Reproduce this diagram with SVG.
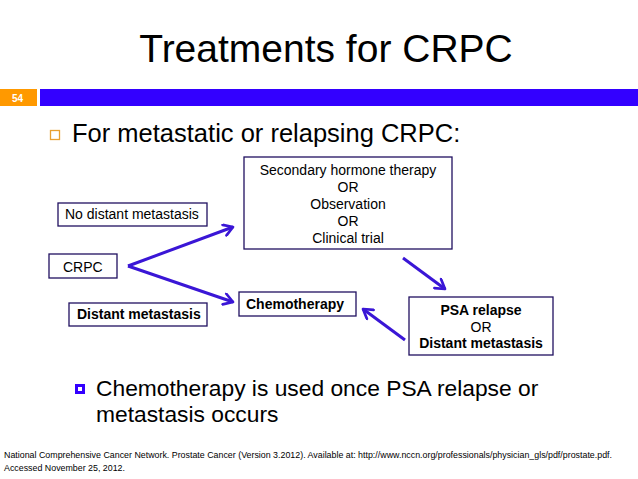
<svg xmlns="http://www.w3.org/2000/svg" width="638" height="479" viewBox="0 0 638 479">
<style>
text{font-family:"Liberation Sans",Arial,sans-serif;fill:#000}
.box{fill:#fff;stroke:#201060;stroke-width:1.3}
.t13{font-size:14px}
.b{font-weight:bold}
.c{text-anchor:middle}
.arr{stroke:#3a16d6;stroke-width:3;fill:none;marker-end:url(#ah)}
</style>
<defs>
<marker id="ah" viewBox="0 0 12 12" refX="10" refY="6" markerWidth="4.5" markerHeight="4.5" orient="auto" markerUnits="strokeWidth">
<path d="M2,1 L10,6 L2,11" fill="none" stroke="#3a16d6" stroke-width="2.4" stroke-linecap="round" stroke-linejoin="round"/>
</marker>
</defs>
<rect width="638" height="479" fill="#fff"/>
<text x="326" y="62" class="c" font-size="39">Treatments for CRPC</text>
<rect x="0" y="89" width="37" height="17" fill="#ff9900"/>
<text x="12" y="102" font-size="10" font-weight="bold" style="fill:#fff">54</text>
<rect x="40" y="89" width="598" height="17" fill="#3300ff"/>
<rect x="50.5" y="130.5" width="9" height="9" fill="none" stroke="#e8a030" stroke-width="1.3"/>
<text x="72" y="142" font-size="25.5">For metastatic or relapsing CRPC:</text>

<g id="connectors">
<path class="arr" d="M128,266 L233,227"/>
<path class="arr" d="M128,266 L233,302"/>
<path class="arr" d="M403,258 L445,289"/>
<path class="arr" d="M405,340 L363,309"/>
</g>

<g id="secondary">
<rect class="box" x="244" y="157" width="208" height="92"/>
<text class="t13 c" x="348" y="175">Secondary hormone therapy</text>
<text class="t13 c" x="348" y="192">OR</text>
<text class="t13 c" x="348" y="209">Observation</text>
<text class="t13 c" x="348" y="226">OR</text>
<text class="t13 c" x="348" y="243">Clinical trial</text>
</g>
<g id="no-distant">
<rect class="box" x="58" y="203" width="149" height="23"/>
<text class="t13" x="65" y="219">No distant metastasis</text>
</g>
<g id="crpc">
<rect class="box" x="49" y="254" width="68" height="24"/>
<text class="t13" x="63" y="272">CRPC</text>
</g>
<g id="distant">
<rect class="box" x="69" y="303" width="138" height="23"/>
<text class="t13 b" x="77" y="319">Distant metastasis</text>
</g>
<g id="chemo">
<rect class="box" x="239" y="292" width="117" height="24"/>
<text class="t13 b" x="246" y="309">Chemotherapy</text>
</g>
<g id="psa">
<rect class="box" x="409" y="297" width="144" height="58"/>
<text class="t13 b c" x="481" y="315">PSA relapse</text>
<text class="t13 c" x="481" y="332">OR</text>
<text class="t13 b c" x="481" y="348">Distant metastasis</text>
</g>

<rect x="75" y="384" width="10" height="10" fill="#3300ff"/>
<rect x="78" y="387" width="4" height="4" fill="#fff"/>
<text x="96" y="396" font-size="22.8">Chemotherapy is used once PSA relapse or</text>
<text x="96" y="422" font-size="22.8">metastasis occurs</text>

<text x="4" y="458" font-size="9" textLength="608" lengthAdjust="spacingAndGlyphs">National Comprehensive Cancer Network. Prostate Cancer (Version 3.2012). Available at: http://www.nccn.org/professionals/physician_gls/pdf/prostate.pdf.</text>
<text x="4" y="471" font-size="9.5" textLength="121" lengthAdjust="spacingAndGlyphs">Accessed November 25, 2012.</text>
</svg>
